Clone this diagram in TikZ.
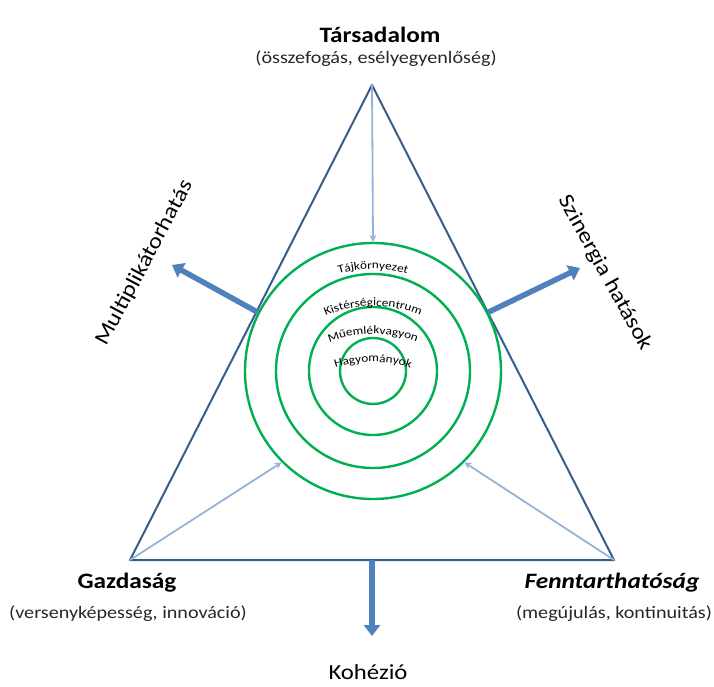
\documentclass[tikz,border=0pt]{standalone}
\usepackage{fontspec}
\setmainfont{Carlito}[FakeStretch=1.15]
\usepackage{tikz}
\usetikzlibrary{
arrows.meta,
positioning,
decorations.text
}
\definecolor{hunline}{HTML}{385D8A}
\definecolor{hunblue}{HTML}{4F81BD}
\definecolor{hunlight}{HTML}{95B3D7}
\definecolor{hungreen}{HTML}{00B050}
\newcommand{\ringfont}{\fontsize{11.5}{12}\selectfont}

\begin{document}
\begin{tikzpicture}[
  x=1pt, y=1pt,
  >={Stealth},
  pillar/.style={font=\fontsize{22}{24}\selectfont\bfseries},
  pillarsub/.style={font=\fontsize{17.5}{19}\selectfont, text=black!85},
  effect/.style={font=\fontsize{21.5}{23}\selectfont},
  ring/.style={circle, draw=hungreen, line width=2.4pt, inner sep=0pt},
  ringlabel/.style={decorate, decoration={text along path,
                    text align=center, text={|\ringfont|#1}}},
  thickarrow/.style={-{Triangle[width=16pt,length=11pt]},
                     line width=5.5pt, hunblue},
  thinarrow/.style={-{Stealth[width=7pt,length=7pt]},
                    line width=1.8pt, hunlight}
]
\useasboundingbox (0,0) rectangle (714,686);

%% Triangle
\coordinate (vtop)   at (372,601);
\coordinate (vleft)  at (130,126);
\coordinate (vright) at (614,126);
\coordinate (basemid) at (372,126);
\draw[line width=2pt, hunline, line join=round]
  (vtop) -- (vleft) -- (vright) -- cycle;

%% Concentric rings
\node[ring, minimum size=256pt] (ring4) at (373,315) {};
\node[ring, minimum size=194pt] (ring3) at (373,315) {};
\node[ring, minimum size=128pt] (ring2) at (373,315) {};
\node[ring, minimum size=66pt]  (ring1) at (373,315) {};

%% Ring labels
\path[ringlabel=Tájkörnyezet, shift={(373,297)}]
  (130:120) arc[start angle=130, end angle=50, radius=120];
\path[ringlabel=Kistérségicentrum, shift={(373,260)}]
  (130:120) arc[start angle=130, end angle=50, radius=120];
\path[ringlabel=Műemlékvagyon, shift={(373,232)}]
  (130:120) arc[start angle=130, end angle=50, radius=120];
\path[ringlabel=Hagyományok, shift={(373,204)}]
  (130:120) arc[start angle=130, end angle=50, radius=120];

%% Pillars
\node[pillar] (tars) at (380,651) {Társadalom};
\node[pillarsub] (tarssub) at (376,627) {(összefogás, esélyegyenlőség)};
\node[pillar] (gazd) at (127,103) {Gazdaság};
\node[pillarsub] (gazdsub) at (128,72) {(versenyképesség, innováció)};
\node[pillar] (fennt) at (612,103) {\itshape Fenntarthatóság};
\node[pillarsub] (fenntsub) at (614,72) {(megújulás, kontinuitás)};

%% Effects
\node[effect] (koh) at (368,14) {Kohézió};
\node[effect, rotate=62] (multi) at (145,423) {Multiplikátorhatás};
\node[effect, rotate=-61] (szin) at (605,413) {Szinergia hatások};
\coordinate (multitip) at (172,421);
\coordinate (szintip)  at (580,418);
\coordinate (kohtip)   at (372,50);

\draw[thickarrow] (ring4.153) -- (multitip);
\draw[thickarrow] (ring4.27) -- (szintip);
\draw[thickarrow] (basemid) -- (kohtip);

%% Inflows
\draw[thinarrow] (vtop) -- (ring4.north);
\draw[thinarrow] (vleft) -- (ring4.south west);
\draw[thinarrow] (vright) -- (ring4.south east);

\end{tikzpicture}
\end{document}
